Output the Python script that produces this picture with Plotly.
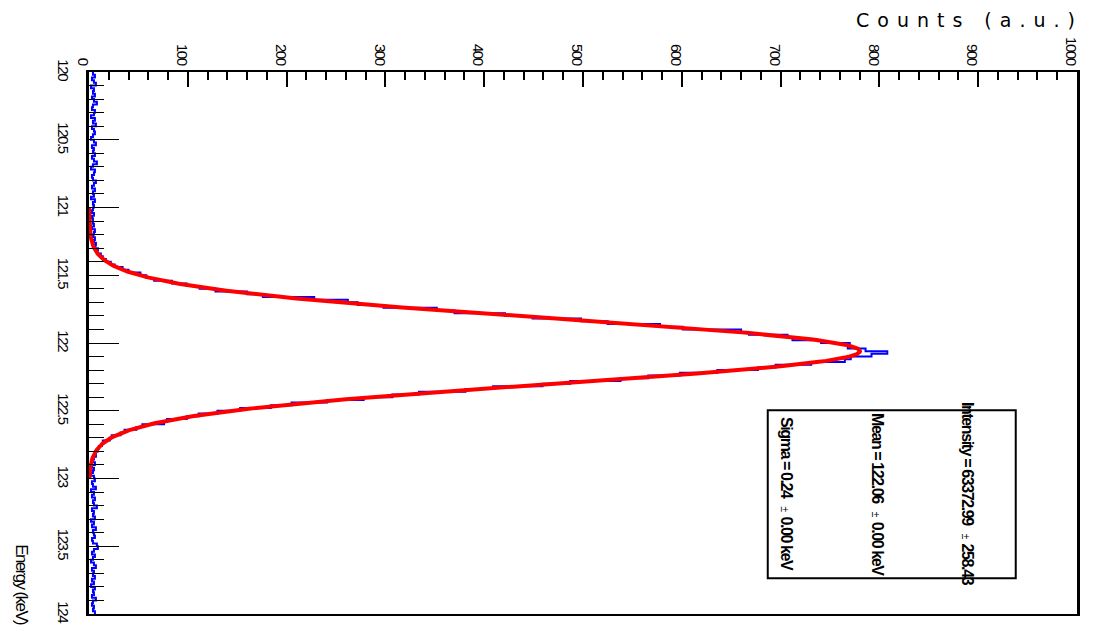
import numpy as np
import plotly.graph_objects as go

# Energy binning of the displayed spectrum (keV)
E_MIN, E_MAX = 120.0, 124.0
BIN_WIDTH = 0.02

# Counts per bin, 120.00 -> 124.00 keV in 0.02 keV steps
counts_low = [4, 6, 3, 5, 7, 2, 5, 4, 6, 3, 5, 8, 4, 3, 6, 5, 2, 6, 4, 7,
              3, 5, 6, 4, 2, 5, 7, 3, 5, 4, 6, 3, 5, 8, 4, 2, 6, 5, 3, 4,
              7, 5, 3, 6, 4, 5, 2, 6, 4, 5]
counts_peak = [4, 3, 5, 3, 4, 4, 5, 3, 6, 5, 4, 6, 5, 7, 6, 9, 8, 12, 14, 17,
               22, 26, 34, 40, 52, 58, 66, 84, 99, 112, 128, 160, 176, 228, 262, 272, 298, 352, 370, 421,
               449, 498, 525, 578, 601, 660, 668, 707, 712, 741, 770, 768, 786, 808, 792, 771, 765, 731, 695, 677,
               636, 598, 566, 538, 487, 459, 409, 381, 334, 307, 278, 241, 205, 184, 153, 130, 111, 99, 79, 76,
               54, 48, 36, 32, 23, 21, 14, 13, 10, 9, 6, 7, 5, 4, 6, 3, 5, 4, 2, 5]
counts_high = [6, 3, 4, 7, 2, 5, 3, 6, 4, 5, 8, 3, 5, 4, 6, 2, 5, 3, 7, 4,
               5, 6, 3, 4, 8, 9, 5, 3, 6, 4, 2, 5, 7, 3, 5, 4, 6, 3, 5, 2,
               6, 4, 5, 3, 7, 4, 3, 5, 4, 6]
counts = counts_low + counts_peak + counts_high

# Gaussian fit results
FIT_INTENSITY = 63372.99
FIT_INTENSITY_ERR = 258.43
FIT_MEAN = 122.06
FIT_SIGMA = 0.24
FIT_RANGE = (121.0, 123.0)
CHANNEL_WIDTH = 4.0 / 540  # keV per acquisition channel

energy_ticks = [120, 120.5, 121, 121.5, 122, 122.5, 123, 123.5, 124]
count_ticks = list(range(0, 1001, 100))

edges = E_MIN + BIN_WIDTH * np.arange(len(counts) + 1)
step_y = edges
step_x = np.append(counts, counts[-1])

fit_e = np.linspace(FIT_RANGE[0], FIT_RANGE[1], 600)
amp = FIT_INTENSITY * CHANNEL_WIDTH / (FIT_SIGMA * np.sqrt(2 * np.pi))
fit_c = amp * np.exp(-0.5 * ((fit_e - FIT_MEAN) / FIT_SIGMA) ** 2)


def tight(s, spacing):
    return f'<span style="letter-spacing:{spacing}px">{s}</span>'


fig = go.Figure()
fig.add_trace(go.Scatter(x=step_x, y=step_y, mode="lines", line_shape="vh",
                         line=dict(color="#0000ff", width=2), hoverinfo="skip"))
fig.add_trace(go.Scatter(x=fit_c, y=fit_e, mode="lines",
                         line=dict(color="#ff0000", width=4), hoverinfo="skip"))

tick_font = dict(family="Liberation Sans, Arial", size=15, color="black")

fig.update_layout(
    width=1100, height=643,
    margin=dict(l=89, r=23, t=72, b=29),
    paper_bgcolor="white", plot_bgcolor="white",
    showlegend=False,
    xaxis=dict(side="top", range=[0, 1000], tickvals=count_ticks,
               ticktext=[tight(str(v), -1.4) for v in count_ticks], tickangle=90,
               ticklabelshift=-6,
               ticks="inside", ticklen=15, tickwidth=2, tickcolor="black",
               minor=dict(dtick=20, ticks="inside", ticklen=8, tickwidth=2, tickcolor="black"),
               showline=True, linecolor="black", linewidth=2, mirror=True,
               showgrid=False, zeroline=False, tickfont=tick_font),
    yaxis=dict(range=[E_MAX, E_MIN], tickvals=energy_ticks,
               ticktext=[tight(f"{v:g}", -1.4) for v in energy_ticks], tickangle=90,
               ticklabelstandoff=10,
               ticks="inside", ticklen=30, tickwidth=1, tickcolor="black",
               minor=dict(dtick=0.1, ticks="inside", ticklen=15, tickwidth=1, tickcolor="black"),
               showline=True, linecolor="black", linewidth=3, mirror=True,
               showgrid=False, zeroline=False, tickfont=tick_font),
)

# Fit-result box
fig.add_shape(type="rect", xref="paper", yref="paper",
              x0=0.687, x1=0.938, y0=0.066, y1=0.376,
              line=dict(color="black", width=2), fillcolor="white", layer="above")

pm = '<span style="font-size:10px;letter-spacing:0px">±</span>'
box_font = dict(family="Liberation Sans, Arial", size=16, color="black")
SP = -1.4
lines = [
    (0.8897, f"<b>{tight(f'Intensity = {FIT_INTENSITY:.2f}', SP)}</b>  {pm} <b>{tight(f'{FIT_INTENSITY_ERR:.2f}', SP)}</b>"),
    (0.7986, f"<b>{tight(f'Mean = {FIT_MEAN:.2f}', SP)}</b>  {pm} <b>{tight('0.00 keV', SP)}</b>"),
    (0.7065, f"<b>{tight(f'Sigma = {FIT_SIGMA:.2f}', SP)}</b>  {pm} <b>{tight('0.00 keV', SP)}</b>"),
]
for xp, txt in lines:
    fig.add_annotation(x=xp, y=0.2214, xref="paper", yref="paper", text=txt,
                       textangle=90, showarrow=False, xanchor="center", yanchor="middle",
                       font=box_font)

fig.add_annotation(x=1.0, y=1.096, xref="paper", yref="paper",
                   text=tight("Counts (a.u.)", 8), xshift=8,
                   showarrow=False, xanchor="right", yanchor="middle",
                   font=dict(family="DejaVu Sans", size=19, color="black"))
fig.add_annotation(x=-0.0678, y=0.055, xref="paper", yref="paper",
                   text=tight("Energy (keV)", -1.6),
                   textangle=90, showarrow=False, xanchor="center", yanchor="middle",
                   font=dict(family="Liberation Sans, Arial", size=17, color="black"))

fig.write_html("out.html")
